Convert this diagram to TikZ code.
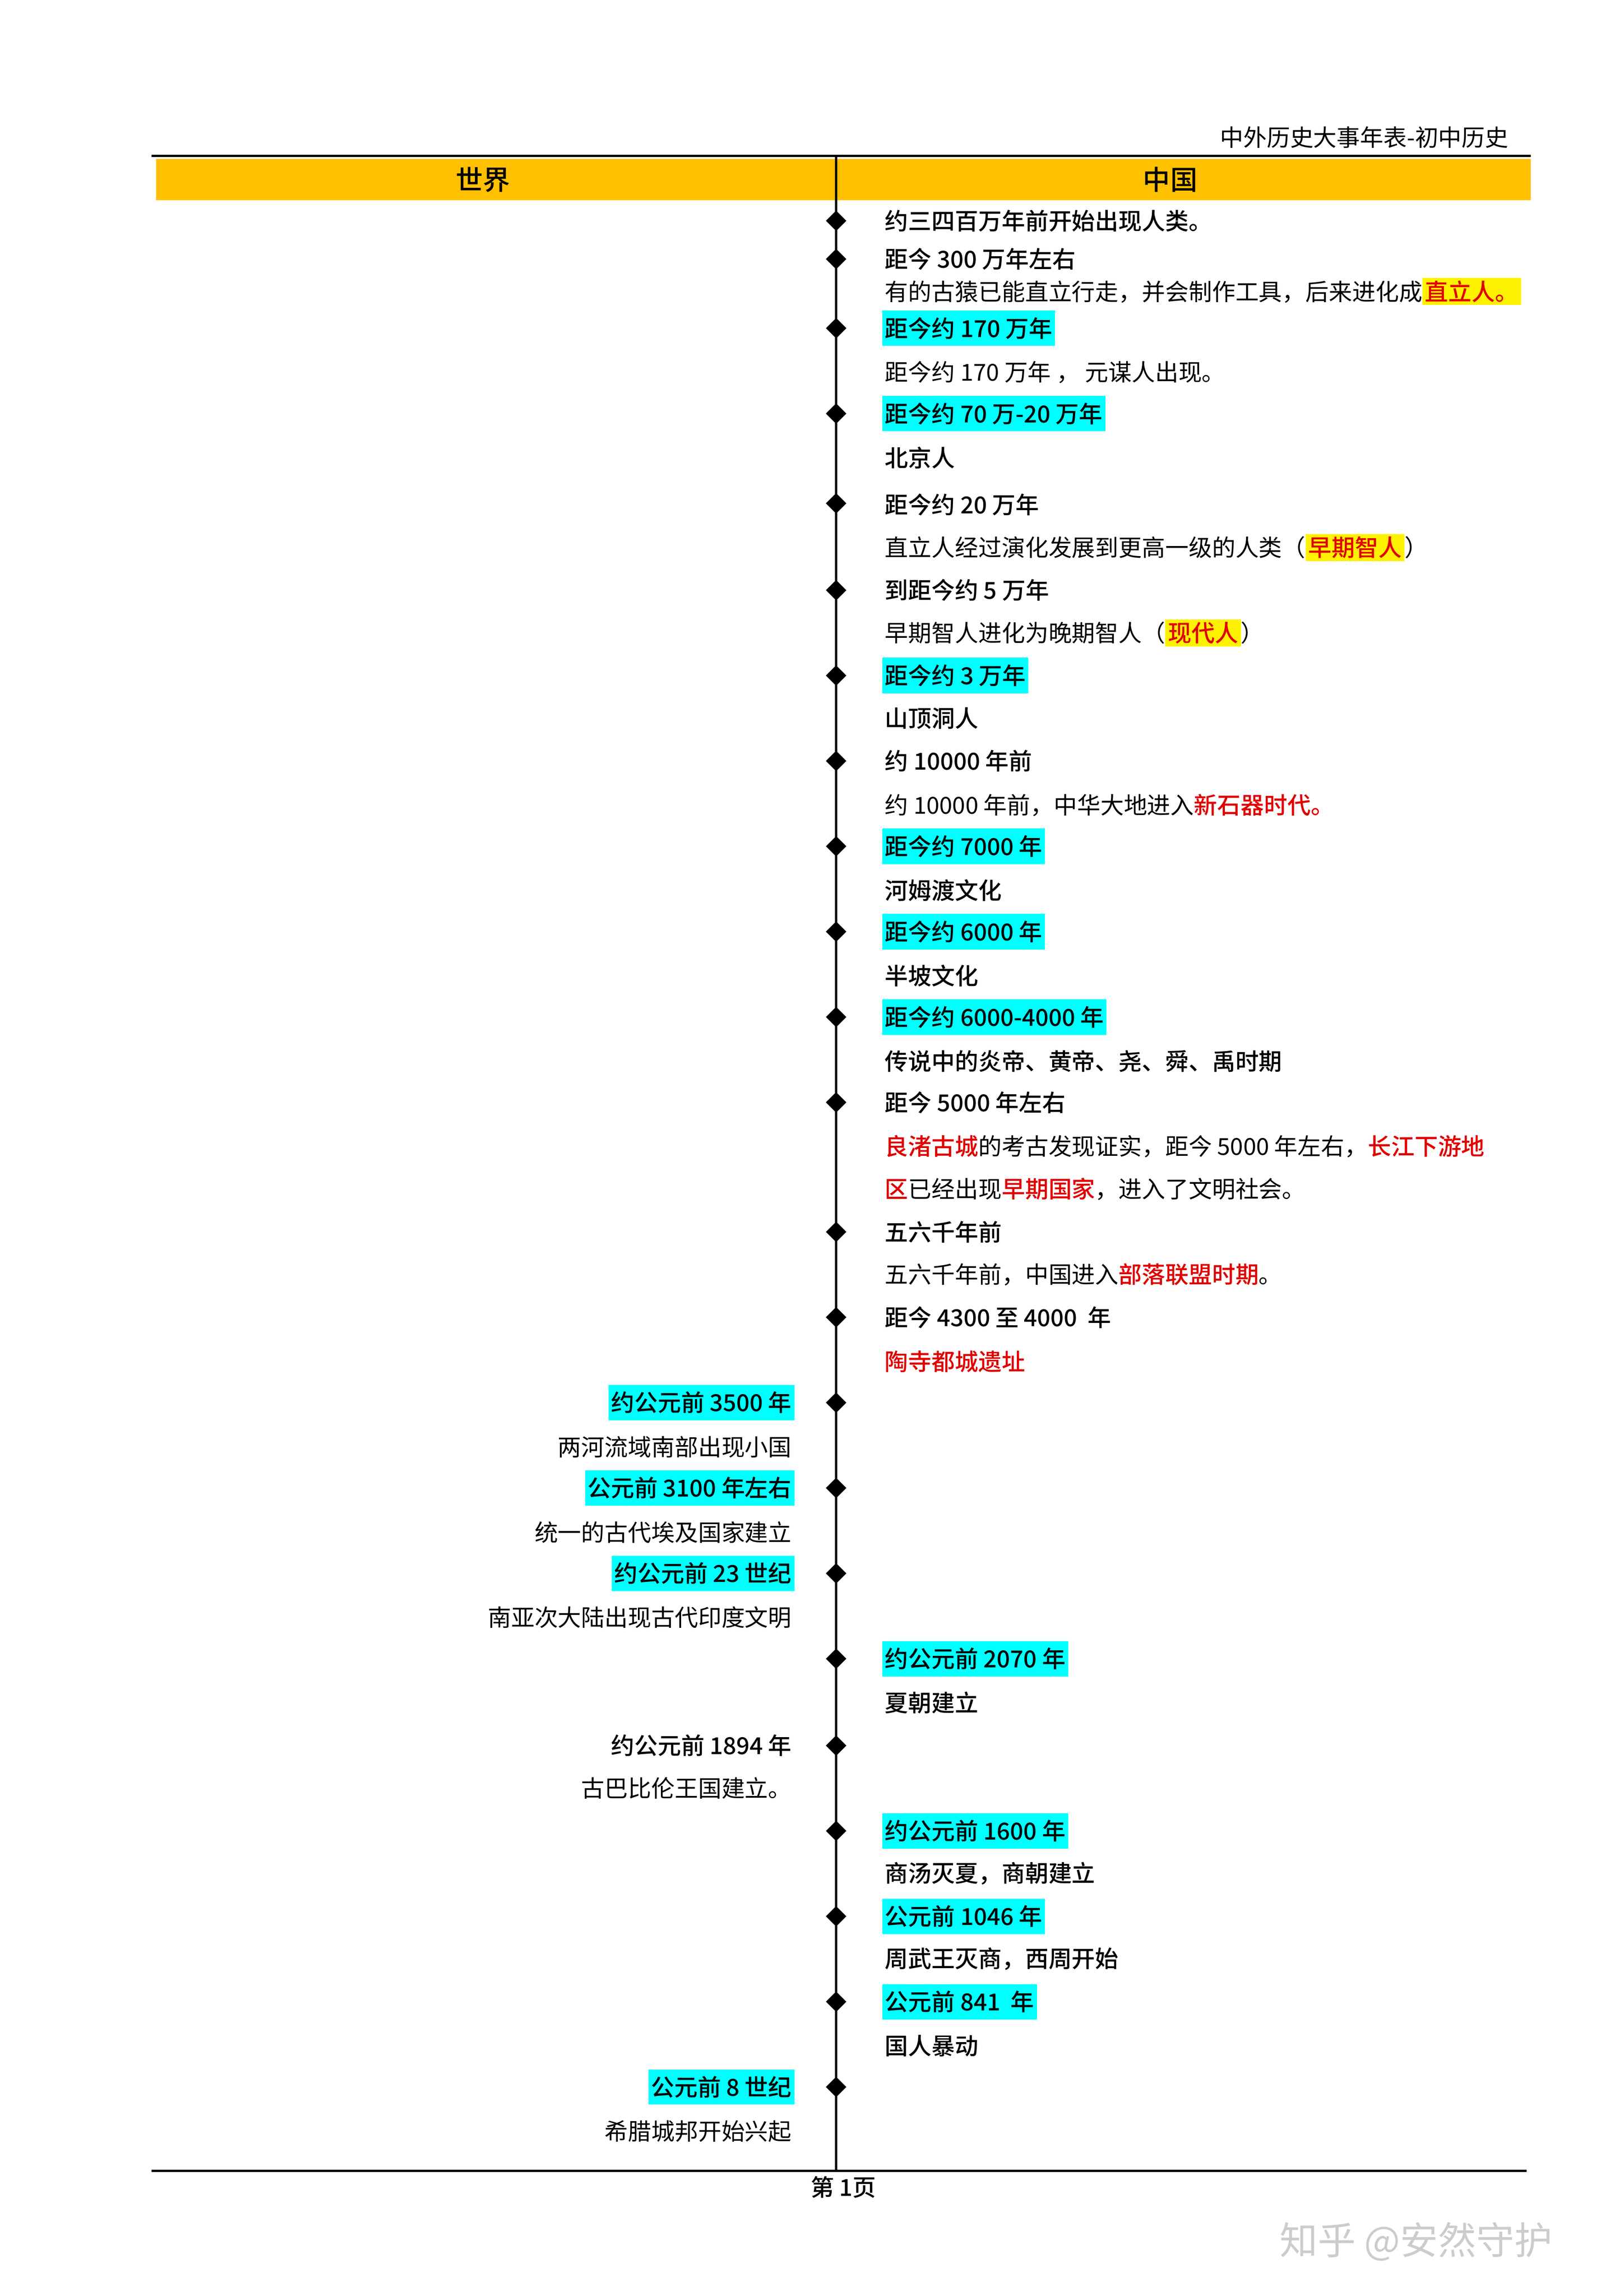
\documentclass[tikz,border=0pt]{standalone}
\usepackage{fontspec}
\setmainfont{Noto Sans CJK SC}[BoldFont={Noto Sans CJK SC Medium}]
\usetikzlibrary{shapes.geometric}
\definecolor{hdr}{HTML}{FFC000}
\definecolor{cy}{HTML}{00FFFF}
\definecolor{rd}{HTML}{E00000}
\setlength{\fboxsep}{1pt}
\newcommand{\hy}[1]{\colorbox{yellow}{\textcolor{rd}{\bfseries #1}}}
\newcommand{\rb}[1]{\textcolor{rd}{\bfseries #1}}
\begin{document}
\begin{tikzpicture}[x=0.01904cm,y=-0.01904cm,
  every node/.style={font=\fontsize{8.6}{11}\selectfont},
  rt/.style={anchor=west,inner sep=1pt},
  lt/.style={anchor=east,inner sep=1pt},
  bd/.style={font=\fontsize{8.6}{11}\selectfont\bfseries},
  cyb/.style={fill=cy,inner xsep=1pt,inner ysep=2.5pt,bd},
  dia/.style={diamond,fill=black,inner sep=0pt,minimum size=0.27cm}]
\useasboundingbox (0,0) rectangle (1103,1560);
\fill[hdr] (106,108) rectangle (1040,136);
\draw[line width=0.8pt] (103,106) -- (1040,106);
\draw[line width=0.8pt] (103,1475) -- (1037,1475);
\draw[line width=0.8pt] (568,106) -- (568,1475);
\node[anchor=south east,inner sep=1pt] (title) at (1027,103) {中外历史大事年表-初中历史};
\node[font=\fontsize{10}{12}\selectfont\bfseries] (world) at (328,122) {世界};
\node[font=\fontsize{10}{12}\selectfont\bfseries] (china) at (795,122) {中国};
\node[bd] (page) at (573,1486) {第 1页};
\node[font=\fontsize{14}{16}\selectfont,text=black!20] (wm) at (962,1523) {知乎 @安然守护};
\foreach \y [count=\i] in {150,176,223,281,342,401,459,517,575,633,691,749,837,895,953,1011,1069,1127,1186,1244,1302,1360,1418}
  \node[dia] (d\i) at (568,\y) {};
% right side
\node[rt,bd] (r1) at (599,150) {约三四百万年前开始出现人类。};
\node[rt,bd] (r2) at (599,176) {距今 300 万年左右};
\node[rt] (r3) at (599,198) {有的古猿已能直立行走，并会制作工具，后来进化成\hy{直立人。}};
\node[rt,cyb] (r4) at (599,223) {距今约 170 万年};
\node[rt] (r5) at (599,253) {距今约 170 万年 ， 元谋人出现。};
\node[rt,cyb] (r6) at (599,281) {距今约 70 万-20 万年};
\node[rt,bd] (r7) at (599,311) {北京人};
\node[rt,bd] (r8) at (599,343) {距今约 20 万年};
\node[rt] (r9) at (599,372) {直立人经过演化发展到更高一级的人类（\hy{早期智人}）};
\node[rt,bd] (r10) at (599,401) {到距今约 5 万年};
\node[rt] (r11) at (599,430) {早期智人进化为晚期智人（\hy{现代人}）};
\node[rt,cyb] (r12) at (599,459) {距今约 3 万年};
\node[rt,bd] (r13) at (599,488) {山顶洞人};
\node[rt,bd] (r14) at (599,517) {约 10000 年前};
\node[rt] (r15) at (599,547) {约 10000 年前，中华大地进入\rb{新石器时代。}};
\node[rt,cyb] (r16) at (599,575) {距今约 7000 年};
\node[rt,bd] (r17) at (599,605) {河姆渡文化};
\node[rt,cyb] (r18) at (599,633) {距今约 6000 年};
\node[rt,bd] (r19) at (599,663) {半坡文化};
\node[rt,cyb] (r20) at (599,691) {距今约 6000-4000 年};
\node[rt,bd] (r21) at (599,721) {传说中的炎帝、黄帝、尧、舜、禹时期};
\node[rt,bd] (r22) at (599,749) {距今 5000 年左右};
\node[rt] (r23) at (599,779) {\rb{良渚古城}的考古发现证实，距今 5000 年左右，\rb{长江下游地}};
\node[rt] (r24) at (599,808) {\rb{区}已经出现\rb{早期国家}，进入了文明社会。};
\node[rt,bd] (r25) at (599,837) {五六千年前};
\node[rt] (r26) at (599,866) {五六千年前，中国进入\rb{部落联盟时期}。};
\node[rt,bd] (r27) at (599,895) {距今 4300 至 4000 \ 年};
\node[rt] (r28) at (599,925) {\rb{陶寺都城遗址}};
% left
\node[lt,cyb] (l1) at (540,953) {约公元前 3500 年};
\node[lt] (l2) at (540,983) {两河流域南部出现小国};
\node[lt,cyb] (l3) at (540,1011) {公元前 3100 年左右};
\node[lt] (l4) at (540,1041) {统一的古代埃及国家建立};
\node[lt,cyb] (l5) at (540,1069) {约公元前 23 世纪};
\node[lt] (l6) at (540,1099) {南亚次大陆出现古代印度文明};
\node[rt,cyb] (r29) at (599,1127) {约公元前 2070 年};
\node[rt,bd] (r30) at (599,1157) {夏朝建立};
\node[lt,bd] (l7) at (540,1186) {约公元前 1894 年};
\node[lt] (l8) at (540,1215) {古巴比伦王国建立。};
\node[rt,cyb] (r31) at (599,1244) {约公元前 1600 年};
\node[rt,bd] (r32) at (599,1273) {商汤灭夏，商朝建立};
\node[rt,cyb] (r33) at (599,1302) {公元前 1046 年};
\node[rt,bd] (r34) at (599,1331) {周武王灭商，西周开始};
\node[rt,cyb] (r35) at (599,1360) {公元前 841 \ 年};
\node[rt,bd] (r36) at (599,1390) {国人暴动};
\node[lt,cyb] (l9) at (540,1418) {公元前 8 世纪};
\node[lt] (l10) at (540,1448) {希腊城邦开始兴起};
\end{tikzpicture}
\end{document}
